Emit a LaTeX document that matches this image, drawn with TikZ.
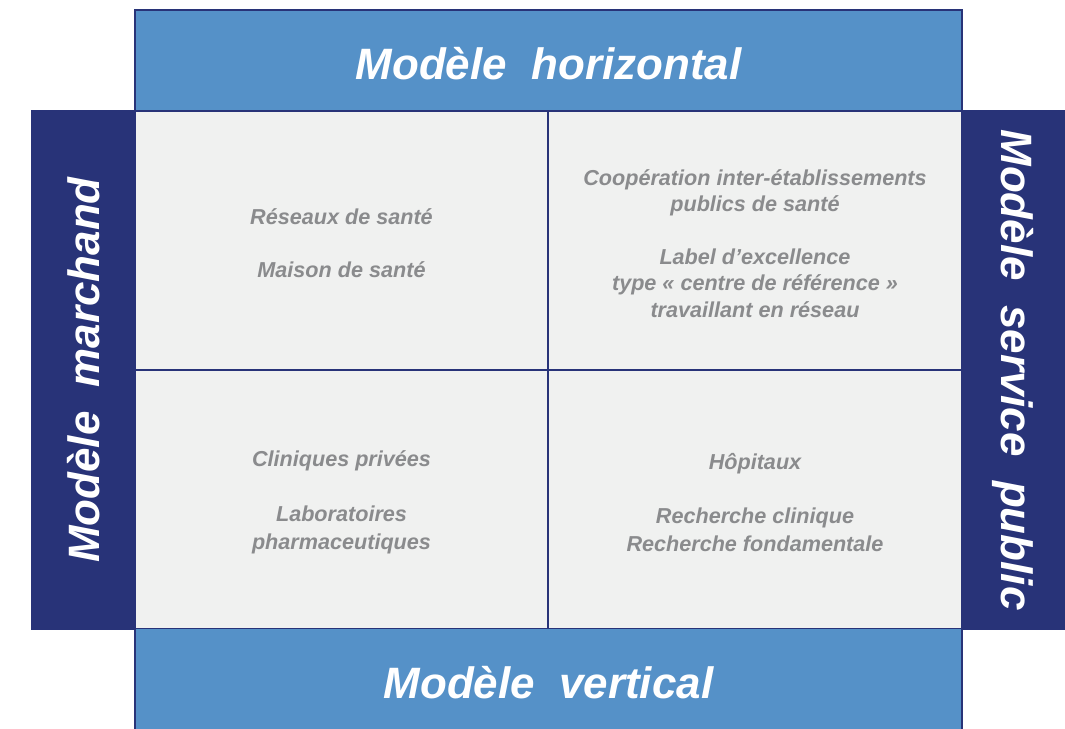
\documentclass[tikz,border=0pt]{standalone}
\usepackage{fontspec}
\setmainfont{Liberation Sans}
\definecolor{navy}{HTML}{283378}
\definecolor{barblue}{HTML}{5591C8}
\definecolor{cellgray}{HTML}{F0F1F0}
\definecolor{textgray}{HTML}{8A8B8D}
\tikzset{
  bar/.style={fill=barblue, draw=navy, line width=1.1pt, text=white, inner sep=0pt,
    minimum width=16.54cm, minimum height=2.02cm, text height=22pt,
    font=\bfseries\itshape\fontsize{25}{30}\selectfont},
  side/.style={fill=navy, draw=navy, line width=1.1pt, text=white, inner sep=0pt,
    minimum width=10.36cm, minimum height=2.06cm,
    font=\bfseries\itshape\fontsize{25}{30}\selectfont},
  cell/.style={fill=cellgray, draw=navy, line width=1.2pt, inner sep=0pt,
    minimum width=8.27cm, minimum height=5.18cm},
  celltext/.style={text=textgray, inner sep=0pt, align=center, yshift=-1.7pt,
    font=\bfseries\itshape\fontsize{12.3}{15}\selectfont},
}

\begin{document}
\begin{tikzpicture}[x=0.02cm, y=-0.02cm]
    \useasboundingbox (0,0) rectangle (1065,729);
    % The four cells of the grid.
        \node[cell] (marchhor) at (341.5,240.5) {};
        \node[cell] (pubhor) at (755,240.5) {};
        \node[cell] (marchvert) at (341.5,499.5) {};
        \node[cell] (pubvert) at (755,499.5) {};
    % Texts of the cells.
        \node[celltext] (reseaux) at (marchhor.center) {R\'eseaux de sant\'e\\[15pt]Maison de sant\'e};
        \node[celltext] (cooperation) at (pubhor.center) {Coop\'eration inter-\'etablissements\\publics de sant\'e\\[15pt]Label d'excellence\\type \guillemotleft\ centre de r\'ef\'erence \guillemotright\\travaillant en r\'eseau};
        \node[celltext] (cliniques) at (marchvert.center) {Cliniques priv\'ees\\[16pt]Laboratoires\\[1pt]pharmaceutiques};
        \node[celltext] (hopitaux) at (pubvert.center) {H\^opitaux\\[16pt]Recherche clinique\\[1pt]Recherche fondamentale};
    % Below nodes are the four models round the grid.
        \node[bar] (horizontal) at (548.5,60.5) {Mod\`ele~ horizontal};
        \node[bar] (vertical) at (548.5,679) {Mod\`ele~ vertical};
        \node[side, rotate=90] (marchand) at (83.5,370) {Mod\`ele~ marchand};
        \node[side, rotate=-90] (public) at (1013.5,370) {Mod\`ele~ service~ public};
\end{tikzpicture}
\end{document}
